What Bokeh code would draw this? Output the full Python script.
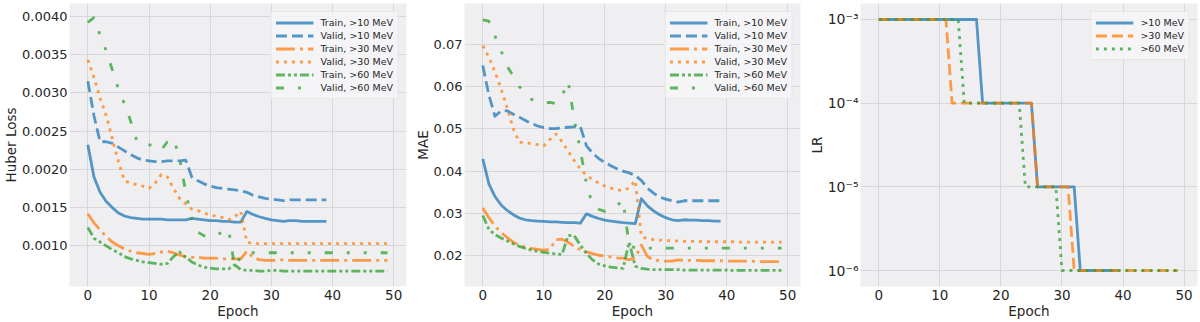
from bokeh.plotting import figure
from bokeh.layouts import row
from bokeh.models import Range1d, FixedTicker, NumeralTickFormatter, CustomJSTickFormatter
from bokeh.embed import file_html
from bokeh.resources import INLINE

# ---------------- data ----------------
epochs_10 = list(range(40))
epochs_all = list(range(50))

huber_train_10 = [0.00232, 0.0019, 0.0017, 0.00158, 0.0015, 0.00143, 0.00139, 0.00137, 0.00136, 0.00135,
                  0.00135, 0.00135, 0.00135, 0.00134, 0.00134, 0.00134, 0.00134, 0.00136, 0.00135, 0.00134,
                  0.00133, 0.00133, 0.00132, 0.00132, 0.00131, 0.00131, 0.00145, 0.00141, 0.00138, 0.00136,
                  0.00134, 0.00133, 0.00132, 0.00133, 0.00133, 0.00132, 0.00132, 0.00132, 0.00132, 0.00132]
huber_valid_10 = [0.00315, 0.0027, 0.00236, 0.00236, 0.00234, 0.00229, 0.00224, 0.00219, 0.00215, 0.00212,
                  0.00211, 0.0021, 0.0021, 0.00211, 0.00211, 0.00211, 0.00212, 0.0019, 0.00185, 0.00181,
                  0.00178, 0.00176, 0.00175, 0.00174, 0.00173, 0.00172, 0.0017, 0.00166, 0.00164, 0.00162,
                  0.00161, 0.0016, 0.00159, 0.0016, 0.0016, 0.0016, 0.0016, 0.0016, 0.0016, 0.0016]
huber_train_30 = [0.00142, 0.0013, 0.00121, 0.00112, 0.00105, 0.001, 0.00096, 0.00093, 0.00091, 0.0009,
                  0.00089, 0.0009, 0.00092, 0.00093, 0.00091, 0.00088, 0.00086, 0.00085, 0.00085, 0.00084,
                  0.00084, 0.00084, 0.00083, 0.00083, 0.00083, 0.00083, 0.00093, 0.00085, 0.00082, 0.00081,
                  0.00081, 0.00081, 0.00082, 0.00081, 0.00081, 0.00081, 0.00081, 0.00081, 0.00081, 0.00081,
                  0.00081, 0.00081, 0.00081, 0.00081, 0.00081, 0.00081, 0.00081, 0.00081, 0.00081, 0.00081]
huber_valid_30 = [0.00343, 0.0032, 0.00293, 0.0027, 0.0024, 0.0021, 0.00185, 0.00182, 0.0018, 0.00178,
                  0.00175, 0.00182, 0.00193, 0.0019, 0.00175, 0.00162, 0.00155, 0.00148, 0.00146, 0.00143,
                  0.0014, 0.00139, 0.00137, 0.00134, 0.00138, 0.00145, 0.00105, 0.00103, 0.00103, 0.00103,
                  0.00103, 0.00103, 0.00103, 0.00103, 0.00103, 0.00103, 0.00103, 0.00103, 0.00103, 0.00103,
                  0.00103, 0.00103, 0.00103, 0.00103, 0.00103, 0.00103, 0.00103, 0.00103, 0.00103, 0.00103]
huber_train_60 = [0.00124, 0.0011, 0.00105, 0.001, 0.00095, 0.00091, 0.00086, 0.00083, 0.00081, 0.00079,
                  0.00078, 0.00077, 0.00076, 0.00077, 0.00086, 0.00092, 0.00085, 0.00079, 0.00075, 0.00072,
                  0.00071, 0.0007, 0.0007, 0.0007, 0.00075, 0.00069, 0.00068, 0.00068, 0.00067, 0.00067,
                  0.00068, 0.00068, 0.00067, 0.00067, 0.00067, 0.00067, 0.00067, 0.00067, 0.00067, 0.00067,
                  0.00067, 0.00067, 0.00067, 0.00067, 0.00067, 0.00067, 0.00067, 0.00067, 0.00067, 0.00067]
huber_valid_60 = [0.00392, 0.00398, 0.00375, 0.00355, 0.0033, 0.00305, 0.00285, 0.00263, 0.00237, 0.00232,
                  0.00232, 0.00231, 0.00225, 0.00236, 0.0024, 0.00215, 0.0017, 0.00135, 0.00118, 0.00113,
                  0.00111, 0.00114, 0.00118, 0.00122, 0.00073, 0.00086, 0.00091, 0.00091, 0.00091, 0.00091,
                  0.00091, 0.00091, 0.00091, 0.00091, 0.00091, 0.00091, 0.00091, 0.00091, 0.00091, 0.00091,
                  0.00091, 0.00091, 0.00091, 0.00091, 0.00091, 0.00091, 0.00091, 0.00091, 0.00091, 0.00091]

mae_train_10 = [0.0429, 0.037, 0.034, 0.032, 0.0307, 0.0297, 0.0289, 0.0285, 0.0283, 0.0282,
                0.0281, 0.028, 0.028, 0.0279, 0.0278, 0.0278, 0.0277, 0.0299, 0.0293, 0.0288,
                0.0284, 0.0282, 0.028, 0.0278, 0.0277, 0.0276, 0.0335, 0.0318, 0.0306, 0.0297,
                0.029, 0.0285, 0.0283, 0.0285, 0.0284, 0.0284, 0.0283, 0.0283, 0.0282, 0.0282]
mae_valid_10 = [0.065, 0.058, 0.053, 0.0543, 0.0543, 0.0535, 0.0528, 0.052, 0.0513, 0.0507,
                0.0503, 0.0501, 0.0501, 0.0503, 0.0504, 0.0505, 0.0505, 0.046, 0.0443, 0.043,
                0.0421, 0.0413, 0.0406, 0.04, 0.0396, 0.039, 0.0378, 0.036, 0.0348, 0.0339,
                0.0334, 0.033, 0.0327, 0.033, 0.033, 0.033, 0.033, 0.033, 0.033, 0.033]
mae_train_30 = [0.0313, 0.029, 0.027, 0.0255, 0.0243, 0.0232, 0.0225, 0.022, 0.0217, 0.0215,
                0.0213, 0.0215, 0.0238, 0.0239, 0.0232, 0.0222, 0.0214, 0.0209, 0.0205, 0.0201,
                0.0199, 0.0197, 0.0195, 0.0194, 0.019, 0.0195, 0.0225, 0.0198, 0.019, 0.0188,
                0.0187, 0.0187, 0.019, 0.0189, 0.0189, 0.0189, 0.0188, 0.0188, 0.0188, 0.0188,
                0.0187, 0.0187, 0.0187, 0.0187, 0.0187, 0.0186, 0.0186, 0.0186, 0.0186, 0.0186]
mae_valid_30 = [0.0697, 0.067, 0.0635, 0.0595, 0.055, 0.05, 0.0468, 0.0468, 0.0465, 0.0463,
                0.046, 0.0475, 0.0488, 0.047, 0.0447, 0.0425, 0.0405, 0.039, 0.038, 0.0372,
                0.0365, 0.036, 0.0355, 0.0355, 0.036, 0.0378, 0.0245, 0.024, 0.0238, 0.0237,
                0.0236, 0.0235, 0.0235, 0.0234, 0.0234, 0.0234, 0.0233, 0.0233, 0.0233, 0.0233,
                0.0233, 0.0233, 0.0232, 0.0232, 0.0232, 0.0232, 0.0232, 0.0232, 0.0232, 0.0232]
mae_train_60 = [0.0295, 0.0262, 0.025, 0.0242, 0.0235, 0.0228, 0.0222, 0.0217, 0.0213, 0.021,
                0.0208, 0.0206, 0.0204, 0.0203, 0.0248, 0.0247, 0.0225, 0.0205, 0.019, 0.018,
                0.0176, 0.0173, 0.0171, 0.017, 0.0232, 0.0175, 0.017, 0.0168, 0.0167, 0.0167,
                0.0167, 0.0167, 0.0167, 0.0166, 0.0166, 0.0166, 0.0166, 0.0166, 0.0166, 0.0166,
                0.0166, 0.0165, 0.0165, 0.0165, 0.0165, 0.0165, 0.0165, 0.0165, 0.0165, 0.0165]
mae_valid_60 = [0.0758, 0.0755, 0.072, 0.0685, 0.0648, 0.0625, 0.06, 0.0585, 0.057, 0.0565,
                0.0562, 0.0563, 0.056, 0.0578, 0.0613, 0.0522, 0.045, 0.037, 0.032, 0.031,
                0.0305, 0.031, 0.0318, 0.0332, 0.0225, 0.0218, 0.0218, 0.0218, 0.0218, 0.0218,
                0.0218, 0.0218, 0.0218, 0.0218, 0.0218, 0.0218, 0.0218, 0.0218, 0.0218, 0.0218,
                0.0218, 0.0218, 0.0218, 0.0218, 0.0218, 0.0218, 0.0218, 0.0218, 0.0218, 0.0218]

lr_10 = [1e-3, 1e-3, 1e-3, 1e-3, 1e-3, 1e-3, 1e-3, 1e-3, 1e-3, 1e-3,
         1e-3, 1e-3, 1e-3, 1e-3, 1e-3, 1e-3, 1e-3, 1e-4, 1e-4, 1e-4,
         1e-4, 1e-4, 1e-4, 1e-4, 1e-4, 1e-4, 1e-5, 1e-5, 1e-5, 1e-5,
         1e-5, 1e-5, 1e-5, 1e-6, 1e-6, 1e-6, 1e-6, 1e-6, 1e-6, 1e-6]
lr_30 = [1e-3, 1e-3, 1e-3, 1e-3, 1e-3, 1e-3, 1e-3, 1e-3, 1e-3, 1e-3,
         1e-3, 1e-3, 1e-4, 1e-4, 1e-4, 1e-4, 1e-4, 1e-4, 1e-4, 1e-4,
         1e-4, 1e-4, 1e-4, 1e-4, 1e-4, 1e-4, 1e-5, 1e-5, 1e-5, 1e-5,
         1e-5, 1e-5, 1e-6, 1e-6, 1e-6, 1e-6, 1e-6, 1e-6, 1e-6, 1e-6,
         1e-6, 1e-6, 1e-6, 1e-6, 1e-6, 1e-6, 1e-6, 1e-6, 1e-6, 1e-6]
lr_60 = [1e-3, 1e-3, 1e-3, 1e-3, 1e-3, 1e-3, 1e-3, 1e-3, 1e-3, 1e-3,
         1e-3, 1e-3, 1e-3, 1e-3, 1e-4, 1e-4, 1e-4, 1e-4, 1e-4, 1e-4,
         1e-4, 1e-4, 1e-4, 1e-4, 1e-5, 1e-5, 1e-5, 1e-5, 1e-5, 1e-5,
         1e-6, 1e-6, 1e-6, 1e-6, 1e-6, 1e-6, 1e-6, 1e-6, 1e-6, 1e-6,
         1e-6, 1e-6, 1e-6, 1e-6, 1e-6, 1e-6, 1e-6, 1e-6, 1e-6, 1e-6]

epoch_ticks = [0, 10, 20, 30, 40, 50]
huber_ticks = [0.0010, 0.0015, 0.0020, 0.0025, 0.0030, 0.0035, 0.0040]
mae_ticks = [0.02, 0.03, 0.04, 0.05, 0.06, 0.07]
lr_ticks = [1e-6, 1e-5, 1e-4, 1e-3]

# ---------------- style ----------------
FONT = "DejaVu Sans"
TXT = "#262626"
BG = "#efeff2"
GRID = "#d7d7da"
BLUE = "#1f77b4"
ORANGE = "#ff7f0e"
GREEN = "#2ca02c"
LW = 2.8
ALPHA = 0.75

DASHED = "11 5"
DOTTED = "3 5"
DASHDOT = "19 5 3 5"
DASHDOTDOT = "9 3 3 3 3 3"
DASHSPARSE = "8 14 3 14 3 14"


def style(p, ylabel):
    p.background_fill_color = BG
    p.border_fill_color = "white"
    p.outline_line_color = None
    for ax in (p.xaxis, p.yaxis):
        ax.axis_line_color = None
        ax.major_tick_line_color = None
        ax.minor_tick_line_color = None
        ax.major_tick_out = 0
        ax.major_tick_in = 0
        ax.minor_tick_out = 0
        ax.minor_tick_in = 0
        ax.major_label_text_font = FONT
        ax.major_label_text_color = TXT
        ax.axis_label_text_font = FONT
        ax.axis_label_text_font_size = "13.5px"
        ax.axis_label_text_font_style = "normal"
        ax.axis_label_text_color = TXT
    p.xaxis.major_label_text_font_size = "13.5px"
    p.yaxis.major_label_text_font_size = "13px"
    p.xaxis.axis_label = "Epoch"
    p.yaxis.axis_label = ylabel
    p.xaxis.major_label_standoff = 3
    p.xaxis.axis_label_standoff = 0
    p.yaxis.major_label_standoff = 2
    p.yaxis.axis_label_standoff = 0
    p.xaxis.ticker = FixedTicker(ticks=epoch_ticks)
    p.xgrid.grid_line_color = GRID
    p.ygrid.grid_line_color = GRID
    p.xgrid.grid_line_width = 1
    p.ygrid.grid_line_width = 1
    p.xgrid.minor_grid_line_color = None
    p.ygrid.minor_grid_line_color = None


def style_legend(p):
    lg = p.legend[0]
    lg.location = "top_right"
    lg.margin = 8
    lg.padding = 4
    lg.spacing = 0
    lg.label_height = 13
    lg.glyph_height = 13
    lg.glyph_width = 38
    lg.label_standoff = 7
    lg.label_text_font = FONT
    lg.label_text_font_size = "9.5px"
    lg.label_text_color = TXT
    lg.background_fill_color = "#f6f6f8"
    lg.background_fill_alpha = 0.85
    lg.border_line_color = "#d9d9d9"
    lg.border_line_width = 1


def loss_panel(ylabel, yr, ticks, fmt, series, width, bl, br):
    p = figure(width=width, height=322, output_backend="svg", toolbar_location=None,
               x_range=Range1d(-3.0, 52.1), y_range=Range1d(*yr),
               min_border_left=bl, min_border_right=br, min_border_top=3, min_border_bottom=36)
    style(p, ylabel)
    p.yaxis.ticker = FixedTicker(ticks=ticks)
    p.yaxis.formatter = NumeralTickFormatter(format=fmt)
    t10, v10, t30, v30, t60, v60 = series
    p.line(epochs_10, t10, color=BLUE, line_width=LW, line_alpha=ALPHA, line_join="round",
           legend_label="Train, >10 MeV")
    p.line(epochs_10, v10, color=BLUE, line_width=LW, line_alpha=ALPHA, line_dash=DASHED, line_join="round",
           legend_label="Valid, >10 MeV")
    p.line(epochs_all, t30, color=ORANGE, line_width=LW, line_alpha=ALPHA, line_dash=DASHDOT, line_join="round",
           legend_label="Train, >30 MeV")
    p.line(epochs_all, v30, color=ORANGE, line_width=LW, line_alpha=ALPHA, line_dash=DOTTED, line_join="round",
           legend_label="Valid, >30 MeV")
    p.line(epochs_all, t60, color=GREEN, line_width=LW, line_alpha=ALPHA, line_dash=DASHDOTDOT, line_join="round",
           legend_label="Train, >60 MeV")
    p.line(epochs_all, v60, color=GREEN, line_width=LW, line_alpha=ALPHA, line_dash=DASHSPARSE, line_join="round",
           legend_label="Valid, >60 MeV")
    style_legend(p)
    return p


p1 = loss_panel("Huber Loss", (0.000469, 0.004166), huber_ticks, "0.0000",
                (huber_train_10, huber_valid_10, huber_train_30, huber_valid_30, huber_train_60, huber_valid_60),
                410, 69, 4)
p2 = loss_panel("MAE", (0.0127, 0.0797), mae_ticks, "0.00",
                (mae_train_10, mae_valid_10, mae_train_30, mae_valid_30, mae_train_60, mae_valid_60),
                395, 54, 5)

p3 = figure(width=395, height=322, output_backend="svg", toolbar_location=None, y_axis_type="log",
            x_range=Range1d(-3.0, 52.2), y_range=Range1d(6.44e-7, 1.553e-3),
            min_border_left=55, min_border_right=3, min_border_top=3, min_border_bottom=36)
style(p3, "LR")
p3.yaxis.ticker = FixedTicker(ticks=lr_ticks)
p3.yaxis.major_label_text_font_size = "14px"
p3.yaxis.formatter = CustomJSTickFormatter(code="""
const e = Math.round(Math.log10(tick));
const sup = {"-": "\u207b", "0": "\u2070", "1": "\u00b9", "2": "\u00b2", "3": "\u00b3",
             "4": "\u2074", "5": "\u2075", "6": "\u2076", "7": "\u2077", "8": "\u2078", "9": "\u2079"};
return "10" + String(e).split("").map(c => sup[c]).join("");
""")
p3.line(epochs_10, lr_10, color=BLUE, line_width=LW, line_alpha=ALPHA, line_join="round", legend_label=">10 MeV")
p3.line(epochs_all, lr_30, color=ORANGE, line_width=LW, line_alpha=ALPHA, line_dash=DASHED, line_join="round",
        legend_label=">30 MeV")
p3.line(epochs_all, lr_60, color=GREEN, line_width=LW, line_alpha=ALPHA, line_dash=DOTTED, line_join="round",
        legend_label=">60 MeV")
style_legend(p3)

layout = row(p1, p2, p3)
open("out.html", "w").write(file_html(layout, INLINE))
